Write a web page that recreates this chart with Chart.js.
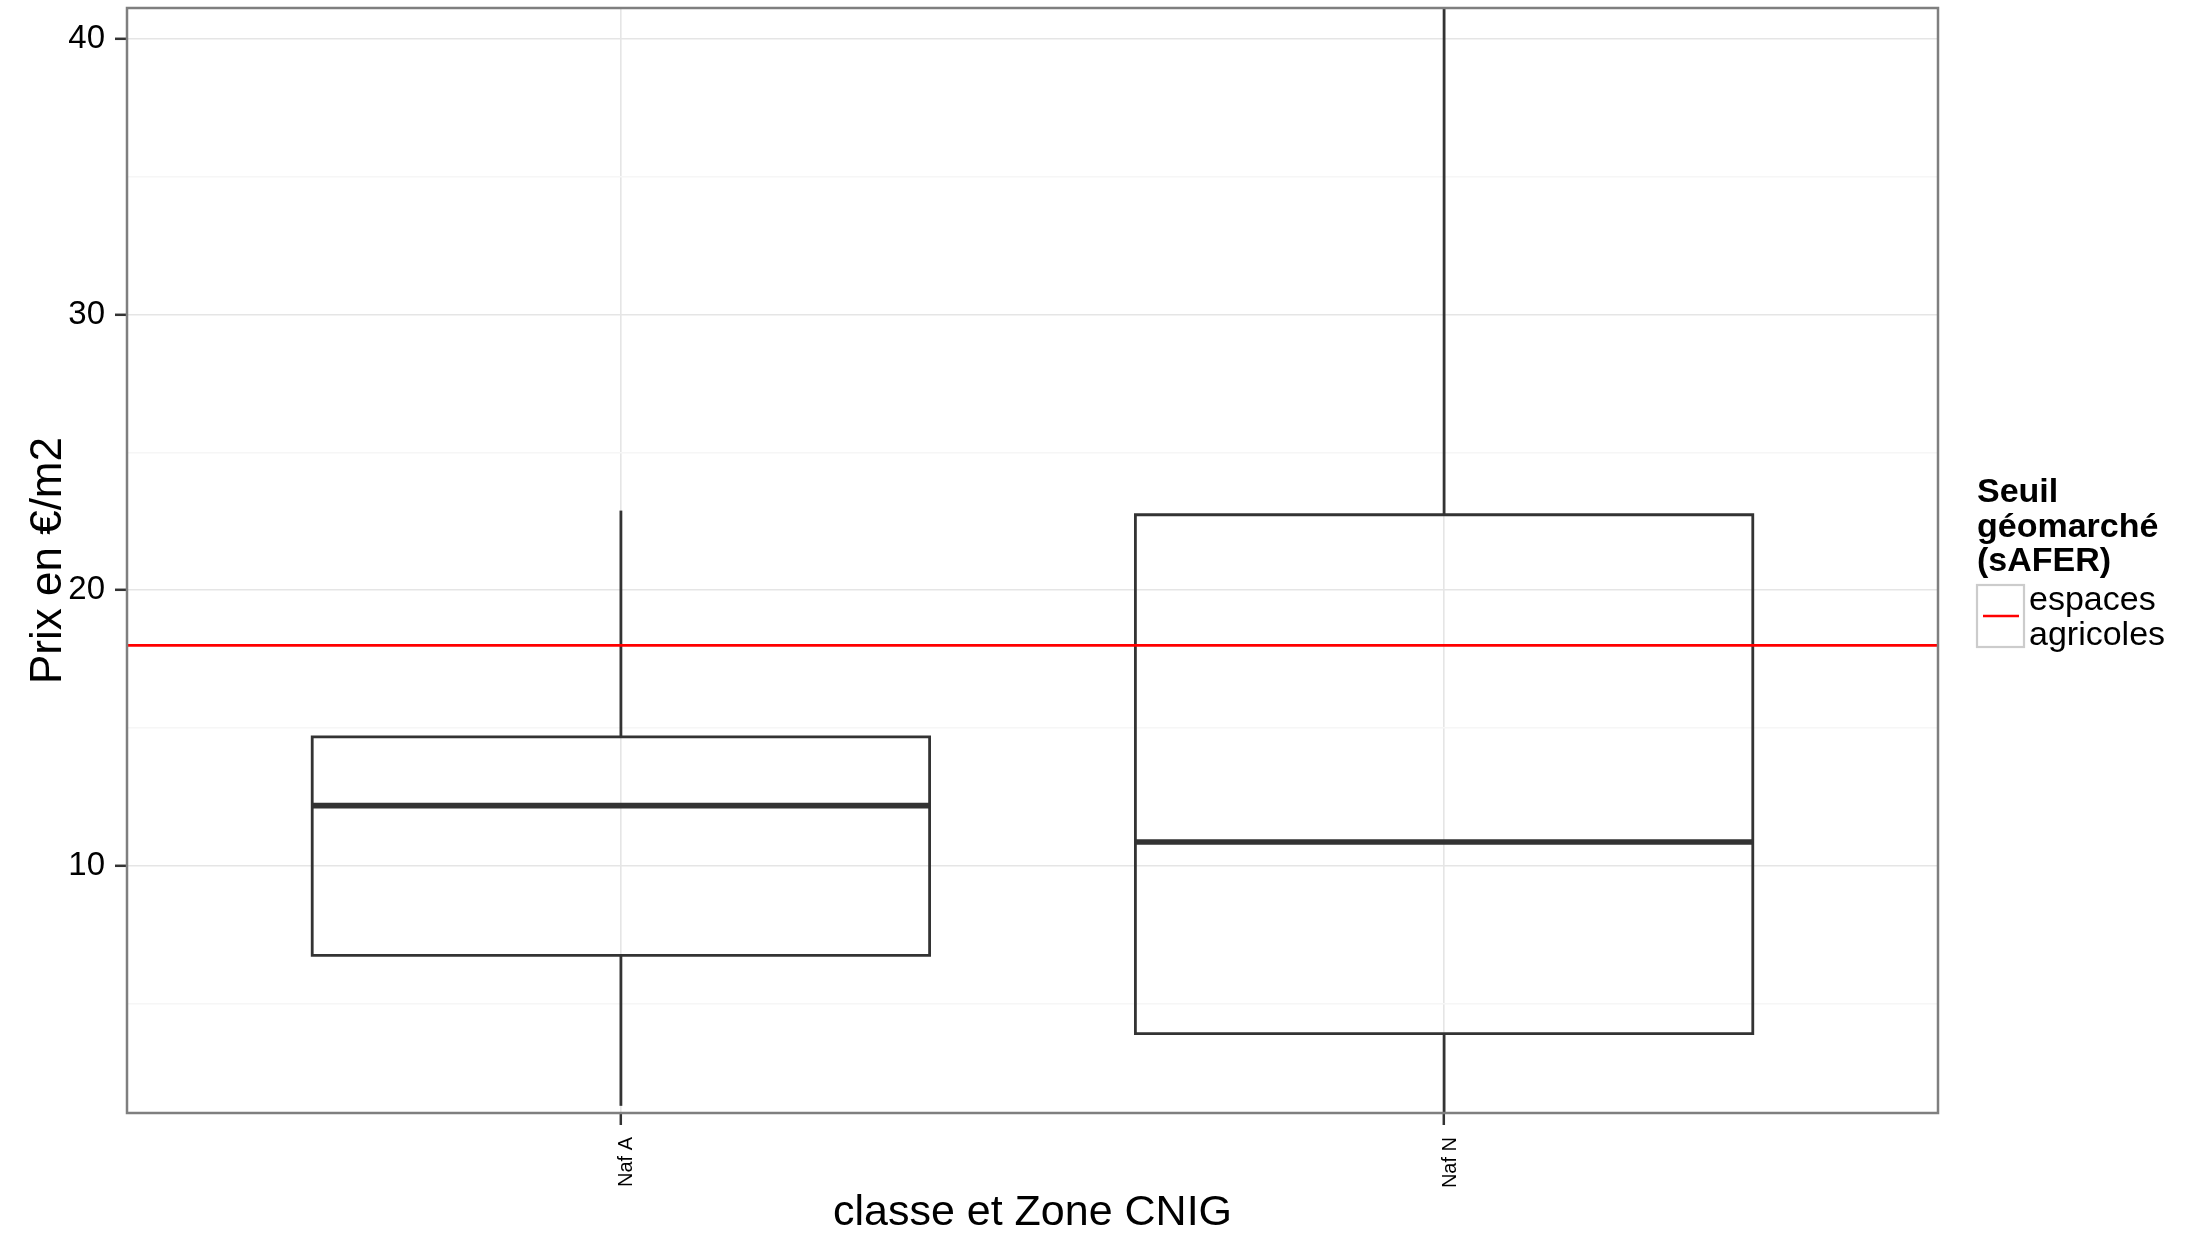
<!DOCTYPE html>
<html>
<head>
<meta charset="utf-8">
<script src="https://cdn.jsdelivr.net/npm/chart.js@4/dist/chart.umd.min.js"></script>
<style>
  html, body { margin: 0; padding: 0; background: #ffffff; }
  #wrap { width: 2193px; height: 1235px; }
</style>
</head>
<body>
<div id="wrap"><canvas id="c" width="2193" height="1235"></canvas></div>
<script>
// ---- data ----
const categories = ['Naf A', 'Naf N'];
const whiskerLow  = [1.30, 1.0];
const q1          = [6.76, 3.92];
const median      = [12.19, 10.87];
const q3          = [14.68, 22.74];
const whiskerHigh = [22.89, 42.0];

const thresholdValue = 18;
const legendTitle = ['Seuil', 'géomarché', '(sAFER)'];
const legendLabel = ['espaces', 'agricoles'];

const yTickValues = [5, 10, 15, 20, 25, 30, 35, 40];
const yMajorTicks = [10, 20, 30, 40];
const yRange = [1.04, 41.12];

const xTitle = 'classe et Zone CNIG';
const yTitle = 'Prix en €/m2';

// ---- style constants ----
const BOX_W = 0.75;
const X_RANGE = [-0.6, categories.length - 1 + 0.6];
const BOX_COLOR = '#333333';
const FONT = '"Liberation Sans", Arial, Helvetica, sans-serif';

// ---- datasets built from the arrays ----
const datasets = [];
datasets.push({
  label: legendLabel.join(' '),
  data: [{x: X_RANGE[0], y: thresholdValue}, {x: X_RANGE[1], y: thresholdValue}],
  borderColor: '#ff0000', borderWidth: 2.6, pointRadius: 0, clip: 0, order: 0
});
categories.forEach((cat, i) => {
  const l = i - BOX_W / 2, r = i + BOX_W / 2;
  datasets.push({
    label: cat + ' médiane',
    data: [{x: l, y: median[i]}, {x: r, y: median[i]}],
    borderColor: BOX_COLOR, borderWidth: 5.6, borderCapStyle: 'butt', pointRadius: 0, clip: 0, order: 1
  });
  datasets.push({
    label: cat + ' boîte',
    data: [{x: l, y: q1[i]}, {x: r, y: q1[i]}, {x: r, y: q3[i]}, {x: l, y: q3[i]}, {x: l, y: q1[i]}],
    borderColor: BOX_COLOR, borderWidth: 2.8, borderJoinStyle: 'miter', borderCapStyle: 'square',
    pointRadius: 0, clip: 0, order: 2
  });
  datasets.push({
    label: cat + ' moustache haute',
    data: [{x: i, y: q3[i]}, {x: i, y: whiskerHigh[i]}],
    borderColor: BOX_COLOR, borderWidth: 2.8, borderCapStyle: 'butt', pointRadius: 0, clip: 0, order: 3
  });
  datasets.push({
    label: cat + ' moustache basse',
    data: [{x: i, y: whiskerLow[i]}, {x: i, y: q1[i]}],
    borderColor: BOX_COLOR, borderWidth: 2.8, borderCapStyle: 'butt', pointRadius: 0, clip: 0, order: 3
  });
});

// ---- plugins ----
const panelBorder = {
  id: 'panelBorder',
  afterDatasetsDraw(chart) {
    const a = chart.chartArea, ctx = chart.ctx;
    ctx.save();
    ctx.strokeStyle = '#7f7f7f';
    ctx.lineWidth = 2.5;
    ctx.strokeRect(a.left, a.top, a.right - a.left, a.bottom - a.top);
    ctx.restore();
  }
};

const ggLegend = {
  id: 'ggLegend',
  afterDraw(chart) {
    const ctx = chart.ctx;
    const x0 = 1977;
    ctx.save();
    ctx.fillStyle = '#000000';
    ctx.textAlign = 'left';
    ctx.textBaseline = 'alphabetic';
    ctx.font = 'bold 34px ' + FONT;
    legendTitle.forEach((t, k) => ctx.fillText(t, x0, 502 + k * 34.5));
    // key
    ctx.fillStyle = '#ffffff';
    ctx.fillRect(x0, 585, 47, 62);
    ctx.strokeStyle = '#cccccc';
    ctx.lineWidth = 2.2;
    ctx.strokeRect(x0, 585, 47, 62);
    const ds = chart.data.datasets[0];
    ctx.strokeStyle = ds.borderColor;
    ctx.lineWidth = ds.borderWidth;
    ctx.beginPath();
    ctx.moveTo(x0 + 6, 616);
    ctx.lineTo(x0 + 42, 616);
    ctx.stroke();
    ctx.fillStyle = '#000000';
    ctx.font = '34px ' + FONT;
    legendLabel.forEach((t, k) => ctx.fillText(t, 2029, 610 + k * 35));
    ctx.restore();
  }
};

new Chart(document.getElementById('c'), {
  type: 'line',
  data: { datasets },
  plugins: [panelBorder, ggLegend],
  options: {
    responsive: false,
    animation: false,
    events: [],
    layout: { padding: { left: 0, top: 8, right: 255, bottom: 0 } },
    plugins: { legend: { display: false }, tooltip: { enabled: false } },
    elements: { line: { tension: 0 } },
    scales: {
      x: {
        type: 'linear',
        min: X_RANGE[0], max: X_RANGE[1],
        afterBuildTicks(scale) { scale.ticks = categories.map((c, i) => ({ value: i })); },
        afterFit(scale) { scale.height = 122; scale.paddingLeft = 0; scale.paddingRight = 0; },
        grid: { color: '#e5e5e5', lineWidth: 1.6, tickLength: 12, tickColor: '#333333', tickWidth: 2.5 },
        border: { display: false },
        ticks: {
          autoSkip: false, maxRotation: 90, minRotation: 90, padding: 12, labelOffset: 6,
          color: '#000000', font: { family: FONT, size: 20 },
          callback: (v) => categories[Math.round(v)]
        },
        title: {
          display: true, text: xTitle, color: '#000000',
          font: { family: FONT, size: 43, lineHeight: 1 }, padding: { top: 0, bottom: 0 }
        }
      },
      y: {
        type: 'linear',
        min: yRange[0], max: yRange[1],
        afterBuildTicks(scale) { scale.ticks = yTickValues.map(v => ({ value: v })); },
        afterFit(scale) { scale.width = 127; scale.paddingTop = 0; scale.paddingBottom = 0; },
        grid: {
          color: (c) => yMajorTicks.includes(c.tick && c.tick.value) ? '#e5e5e5' : '#f6f6f6',
          lineWidth: 1.6, tickLength: 12, tickWidth: 2.5,
          tickColor: (c) => yMajorTicks.includes(c.tick && c.tick.value) ? '#333333' : 'rgba(0,0,0,0)'
        },
        border: { display: false },
        ticks: {
          padding: 10, color: '#000000', font: { family: FONT, size: 33 },
          callback: (v) => yMajorTicks.includes(v) ? String(v) : ''
        },
        title: {
          display: true, text: yTitle, color: '#000000',
          font: { family: FONT, size: 44, lineHeight: 1 }, padding: { top: 27, bottom: 0 }
        }
      }
    }
  }
});
</script>
</body>
</html>
